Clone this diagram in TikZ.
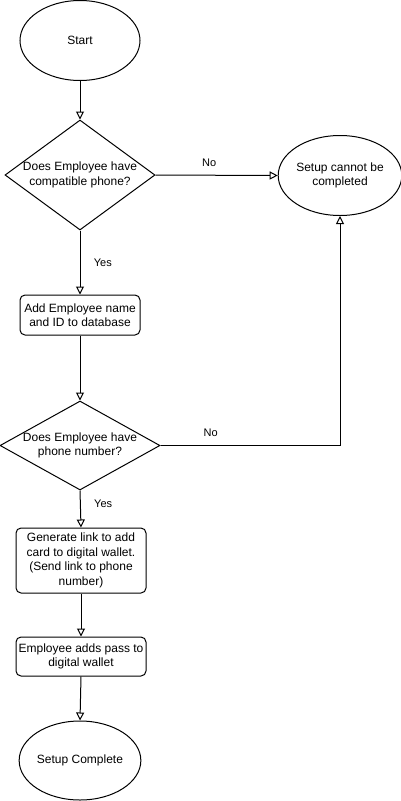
\documentclass[tikz,border=0pt]{standalone}
\usepackage{fontspec}
\setmainfont{Liberation Sans}
\usetikzlibrary{shapes.geometric,arrows.meta}
\begin{document}
\begin{tikzpicture}[x=1pt,y=-1pt,
  line width=1pt,
  every node/.style={font=\fontsize{12}{14.5}\selectfont, align=center},
  term/.style={draw, ellipse, minimum width=120pt, minimum height=80pt, inner sep=0pt},
  proc/.style={draw, rounded corners=5pt, inner sep=0pt},
  dec/.style={draw, diamond, inner sep=0pt},
  lbl/.style={font=\fontsize{11}{13}\selectfont},
  flow/.style={-{Triangle[open,length=8pt,width=8pt]}}
]
\useasboundingbox (0,0) rectangle (401,801);
\node[term] (start) at (80,40.5) {Start};
\node[dec, minimum width=150pt, minimum height=110pt] (d1) at (80,175) {};
\node (d1t) at (80,175) {Does Employee have\\compatible phone?};
\node[term] (fail) at (340,175.5) {Setup cannot be\\completed};
\node[proc, minimum width=120pt, minimum height=40pt] (r1) at (80,315) {Add Employee name\\and ID to database};
\node[dec, minimum width=160pt, minimum height=89pt] (d2) at (80,445.5) {};
\node (d2t) at (80,445.5) {Does Employee have\\phone number?};
\node[proc, minimum width=130pt, minimum height=65pt] (r2) at (81,560.5) {Generate link to add\\card to digital wallet.\\(Send link to phone\\number)};
\node[proc, minimum width=130pt, minimum height=39pt] (r3) at (81,656.5) {Employee adds pass to\\digital wallet};
\node[term, minimum height=79pt] (done) at (80,760.5) {Setup Complete};

\draw[flow] (start.south) -- (d1.north);
\draw[flow] (d1.east) -- node[lbl, above=5pt, pos=0.44] (no1) {No} (fail.west);
\draw[flow] (d1.south) -- node[lbl, right=10pt, pos=0.5] (yes1) {Yes} (r1.north);
\draw[flow] (r1.south) -- (d2.north);
\draw[flow] (d2.east) -| node[lbl, above=5pt, pos=0.14] (no2) {No} (fail.south);
\draw[flow] (d2.south) -- node[lbl, right=10pt, pos=0.37] (yes2) {Yes} (r2.north);
\draw[flow] (r2.south) -- (r3.north);
\draw[flow] (r3.south) -- (done.north);
\end{tikzpicture}
\end{document}
